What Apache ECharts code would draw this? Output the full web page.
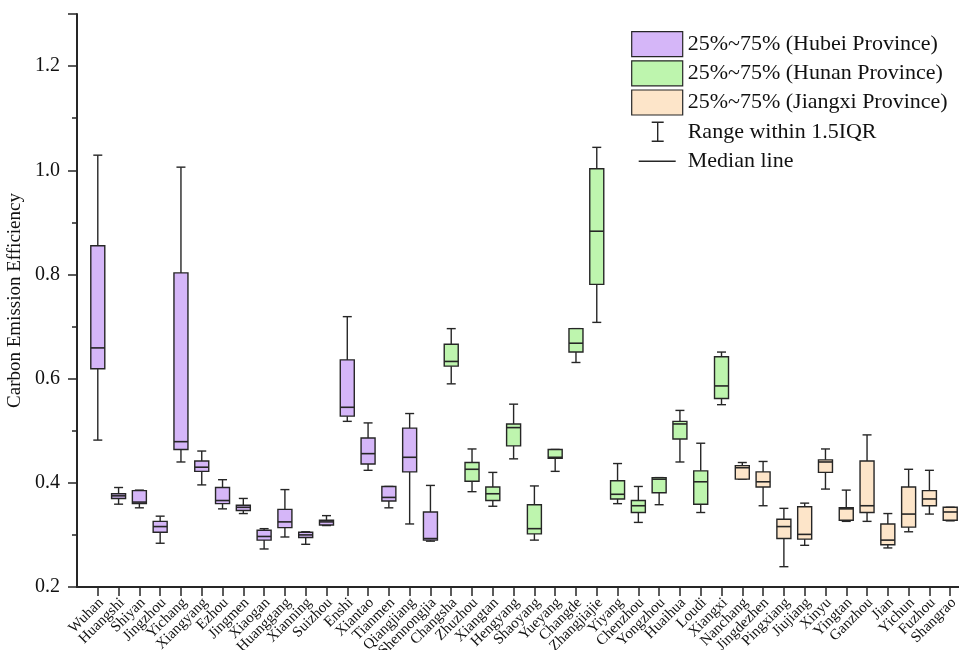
<!DOCTYPE html>
<html>
<head>
<meta charset="utf-8">
<script src="https://cdn.jsdelivr.net/npm/echarts@6/dist/echarts.min.js"></script>
<style>
  html, body { margin: 0; padding: 0; background: #fff; }
  #main { width: 959px; height: 650px; }
</style>
</head>
<body>
<div id="main"></div>
<script>
// cities by province
var hubeiCities = ['Wuhan', 'Huangshi', 'Shiyan', 'Jingzhou', 'Yichang', 'Xiangyang', 'Ezhou', 'Jingmen',
  'Xiaogan', 'Huanggang', 'Xianning', 'Suizhou', 'Enshi', 'Xiantao', 'Tianmen', 'Qiangjiang', 'Shennongjia'];
var hunanCities = ['Changsha', 'Zhuzhou', 'Xiangtan', 'Hengyang', 'Shaoyang', 'Yueyang', 'Changde',
  'Zhangjiajie', 'Yiyang', 'Chenzhou', 'Yongzhou', 'Huaihua', 'Loudi', 'Xiangxi'];
var jiangxiCities = ['Nanchang', 'Jingdezhen', 'Pingxiang', 'Jiujiang', 'Xinyu', 'Yingtan', 'Ganzhou',
  'Jian', 'Yichun', 'Fuzhou', 'Shangrao'];

// box statistics, same order as the cities above (Hubei, Hunan, Jiangxi)
var whiskerLow = [0.482, 0.359, 0.352, 0.284, 0.440, 0.396, 0.350, 0.341, 0.273, 0.296, 0.282, 0.318, 0.518, 0.424, 0.352, 0.321, 0.288,
  0.590, 0.383, 0.355, 0.446, 0.290, 0.422, 0.631, 0.708, 0.360, 0.324, 0.358, 0.440, 0.343, 0.550,
  0.407, 0.356, 0.239, 0.280, 0.388, 0.326, 0.326, 0.275, 0.306, 0.340, 0.327];
var q1 = [0.619, 0.370, 0.360, 0.305, 0.464, 0.422, 0.360, 0.347, 0.290, 0.314, 0.295, 0.319, 0.528, 0.436, 0.365, 0.421, 0.290,
  0.624, 0.403, 0.366, 0.471, 0.302, 0.447, 0.651, 0.781, 0.369, 0.343, 0.381, 0.484, 0.359, 0.562,
  0.407, 0.392, 0.293, 0.292, 0.420, 0.328, 0.343, 0.281, 0.315, 0.356, 0.328];
var median = [0.659, 0.375, 0.363, 0.316, 0.479, 0.430, 0.366, 0.353, 0.297, 0.325, 0.300, 0.325, 0.545, 0.456, 0.372, 0.449, 0.293,
  0.633, 0.426, 0.379, 0.506, 0.312, 0.449, 0.668, 0.883, 0.378, 0.356, 0.407, 0.513, 0.402, 0.586,
  0.429, 0.402, 0.316, 0.301, 0.440, 0.350, 0.356, 0.290, 0.340, 0.369, 0.344];
var q3 = [0.855, 0.379, 0.385, 0.326, 0.803, 0.442, 0.391, 0.357, 0.309, 0.349, 0.305, 0.328, 0.636, 0.486, 0.393, 0.505, 0.344,
  0.666, 0.439, 0.392, 0.513, 0.358, 0.464, 0.696, 1.003, 0.404, 0.366, 0.410, 0.518, 0.423, 0.642,
  0.433, 0.421, 0.330, 0.354, 0.444, 0.352, 0.442, 0.321, 0.392, 0.385, 0.353];
var whiskerHigh = [1.029, 0.391, 0.386, 0.336, 1.006, 0.461, 0.406, 0.370, 0.312, 0.387, 0.306, 0.337, 0.719, 0.515, 0.393, 0.533, 0.395,
  0.696, 0.465, 0.420, 0.551, 0.394, 0.464, 0.696, 1.044, 0.437, 0.393, 0.410, 0.539, 0.476, 0.651,
  0.439, 0.441, 0.351, 0.361, 0.465, 0.386, 0.492, 0.341, 0.426, 0.424, 0.353];

var allCities = hubeiCities.concat(hunanCities, jiangxiCities);
// blank slots at both ends so the boxes sit away from the y axis
var xCategories = [''].concat(allCities, ['']);

var yTicks = { min: 0.2, max: 1.3, step: 0.2 };

var serif = 'Liberation Serif';
var edge = '#262626';

function boxData(start, count) {
  var out = [];
  for (var i = start; i < start + count; i++) {
    out.push([i + 1, whiskerLow[i], q1[i], median[i], q3[i], whiskerHigh[i]]);
  }
  return out;
}

function renderBox(params, api) {
  var idx = api.value(0);
  var x = api.coord([idx, 0])[0];
  var yLow = api.coord([idx, api.value(1)])[1];
  var yQ1 = api.coord([idx, api.value(2)])[1];
  var yMed = api.coord([idx, api.value(3)])[1];
  var yQ3 = api.coord([idx, api.value(4)])[1];
  var yHigh = api.coord([idx, api.value(5)])[1];
  var bw = 14, cw = 9;
  var ls = { stroke: edge, lineWidth: 1.4 };
  return {
    type: 'group',
    children: [
      { type: 'line', shape: { x1: x, y1: yHigh, x2: x, y2: yQ3 }, style: ls },
      { type: 'line', shape: { x1: x, y1: yQ1, x2: x, y2: yLow }, style: ls },
      { type: 'line', shape: { x1: x - cw / 2, y1: yHigh, x2: x + cw / 2, y2: yHigh }, style: ls },
      { type: 'line', shape: { x1: x - cw / 2, y1: yLow, x2: x + cw / 2, y2: yLow }, style: ls },
      { type: 'rect', shape: { x: x - bw / 2, y: yQ3, width: bw, height: yQ1 - yQ3 },
        style: { fill: api.visual('color'), stroke: edge, lineWidth: 1.4 } },
      { type: 'line', shape: { x1: x - bw / 2, y1: yMed, x2: x + bw / 2, y2: yMed }, style: { stroke: edge, lineWidth: 1.6 } }
    ]
  };
}

var colors = { hubei: '#D5B6F8', hunan: '#BEF5AE', jiangxi: '#FDE5C9' };

var chart = echarts.init(document.getElementById('main'), null, { renderer: 'canvas' });

var option = {
  backgroundColor: '#fff',
  animation: false,
  grid: { left: 77, right: -12, top: 14, bottom: 63, outerBoundsMode: 'none', containLabel: false },
  legend: {
    orient: 'vertical',
    left: 626,
    top: 26,
    itemWidth: 51,
    itemHeight: 25,
    itemGap: 3,
    selectedMode: false,
    textStyle: { fontFamily: serif, fontSize: 22, color: '#111' },
    data: [
      { name: '25%~75% (Hubei Province)', icon: 'rect', itemStyle: { color: colors.hubei, borderColor: edge, borderWidth: 1.2 } },
      { name: '25%~75% (Hunan Province)', icon: 'rect', itemStyle: { color: colors.hunan, borderColor: edge, borderWidth: 1.2 } },
      { name: '25%~75% (Jiangxi Province)', icon: 'rect', itemStyle: { color: colors.jiangxi, borderColor: edge, borderWidth: 1.2 } },
      { name: 'Range within 1.5IQR', icon: 'path://M0,0M51,25M20,3L32,3M26,3L26,22M20,22L32,22',
        itemStyle: { color: 'rgba(0,0,0,0)', borderColor: edge, borderWidth: 1.4 } },
      { name: 'Median line', icon: 'path://M0,0M51,25M7,12.5L44,12.5',
        itemStyle: { color: 'rgba(0,0,0,0)', borderColor: edge, borderWidth: 1.4 } }
    ]
  },
  xAxis: {
    type: 'category',
    data: xCategories,
    boundaryGap: false,
    axisLine: { lineStyle: { color: edge, width: 2 } },
    axisTick: {
      length: 9,
      lineStyle: { color: edge, width: 1.5 },
      interval: function (index) { return index > 0 && index <= allCities.length; }
    },
    axisLabel: {
      interval: 0,
      rotate: 45,
      margin: 17,
      padding: [0, -5, 0, 0],
      fontFamily: serif,
      fontSize: 15,
      color: '#111'
    },
    splitLine: { show: false }
  },
  yAxis: {
    type: 'value',
    name: 'Carbon Emission Efficiency',
    nameLocation: 'middle',
    nameGap: 47,
    nameTextStyle: { fontFamily: serif, fontSize: 19, color: '#111' },
    min: yTicks.min,
    max: yTicks.max,
    interval: yTicks.step,
    axisLine: { show: true, lineStyle: { color: edge, width: 2 } },
    axisTick: { show: true, length: 9, lineStyle: { color: edge, width: 1.5 } },
    minorTick: { show: true, splitNumber: 2, length: 5, lineStyle: { color: edge, width: 1.5 } },
    axisLabel: {
      margin: 17,
      fontFamily: serif,
      fontSize: 20,
      color: '#111',
      showMaxLabel: false,
      formatter: function (v) { return v.toFixed(1); }
    },
    splitLine: { show: false }
  },
  series: [
    { name: '25%~75% (Hubei Province)', type: 'custom', renderItem: renderBox,
      itemStyle: { color: colors.hubei }, encode: { x: 0, y: [1, 2, 3, 4, 5] },
      data: boxData(0, hubeiCities.length) },
    { name: '25%~75% (Hunan Province)', type: 'custom', renderItem: renderBox,
      itemStyle: { color: colors.hunan }, encode: { x: 0, y: [1, 2, 3, 4, 5] },
      data: boxData(hubeiCities.length, hunanCities.length) },
    { name: '25%~75% (Jiangxi Province)', type: 'custom', renderItem: renderBox,
      itemStyle: { color: colors.jiangxi }, encode: { x: 0, y: [1, 2, 3, 4, 5] },
      data: boxData(hubeiCities.length + hunanCities.length, jiangxiCities.length) },
    { name: 'Range within 1.5IQR', type: 'custom', renderItem: function () { return null; }, data: [] },
    { name: 'Median line', type: 'custom', renderItem: function () { return null; }, data: [] }
  ]
};

chart.setOption(option);
</script>
</body>
</html>
